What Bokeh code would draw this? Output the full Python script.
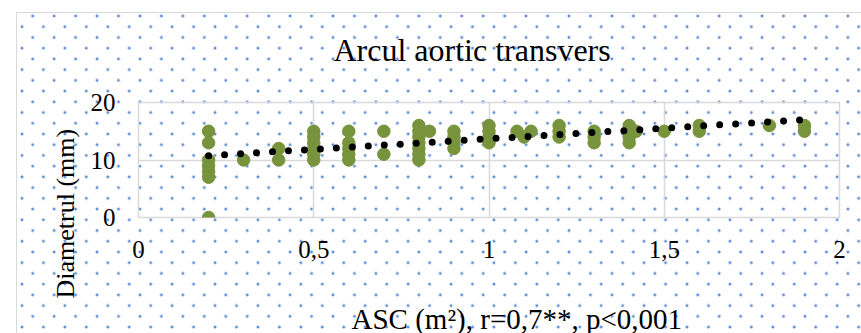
from bokeh.plotting import figure
from bokeh.models import (Range1d, FixedTicker, CustomJSTickFormatter, Title,
                          ColumnDataSource, GlobalInlineStyleSheet)
from bokeh.embed import file_html
from bokeh.resources import INLINE

# ---- data ----
asc = [0.2, 0.2, 0.2, 0.2, 0.2, 0.2, 0.2,
       0.3,
       0.4, 0.4,
       0.5, 0.5, 0.5, 0.5, 0.5, 0.5,
       0.6, 0.6, 0.6, 0.6, 0.6,
       0.7, 0.7,
       0.8, 0.8, 0.8, 0.8, 0.8, 0.8, 0.8, 0.83,
       0.9, 0.9, 0.9, 0.9,
       1.0, 1.0, 1.0, 1.0,
       1.08, 1.12, 1.1,
       1.2, 1.2, 1.2,
       1.3, 1.3, 1.3,
       1.4, 1.4, 1.4, 1.4, 1.42,
       1.5,
       1.6, 1.6,
       1.8,
       1.9, 1.9]
diametru = [15, 13, 10, 9, 8, 7, 0,
            10,
            12, 10,
            15, 14, 13, 12, 11, 10,
            15, 13, 12, 11, 10,
            15, 11,
            16, 15, 14, 13, 12, 11, 10, 15,
            15, 14, 13, 12,
            16, 15, 14, 13,
            15, 15, 14,
            16, 15, 14,
            15, 14, 13,
            16, 15, 14, 13, 15,
            15,
            16, 15,
            16,
            16, 15]
trend_x = [0.2, 1.9]
trend_y = [10.75, 17.0]
x_ticks = [0, 0.5, 1, 1.5, 2]
y_ticks = [0, 10, 20]

title_text = "Arcul aortic transvers"
x_label = "ASC (m\u00b2), r=0,7**, p<0,001"
y_label = "Diametrul (mm)"

FONT = "Liberation Serif"
GRID = "#d9d9d9"
GREEN = "#77933c"

p = figure(width=861, height=409, output_backend="svg", toolbar_location=None,
           x_range=Range1d(0, 2), y_range=Range1d(0, 20),
           min_border_left=138, min_border_right=22, min_border_top=114, min_border_bottom=180,
           background_fill_color=None, border_fill_color=None)

dot = ("radial-gradient(circle at 50% 50%, rgba(60,110,200,1) 0px, rgba(80,130,210,0.85) 0.9px, "
       "rgba(120,160,225,0.35) 1.6px, rgba(255,255,255,0) 2.1px)")
p.styles = {
    "margin-top": "-12px",
    "background-color": "white",
    "background-image": ", ".join([
        f"linear-gradient({GRID}, {GRID})",
        f"linear-gradient({GRID}, {GRID})",
        "linear-gradient(#ffffff, #ffffff)",
        "linear-gradient(#ffffff, #ffffff)",
        dot, dot]),
    "background-position": "16px 24px, 16px 24px, 0px 0px, 0px 0px, 0.51px -4.19px, -10.22px 6.54px",
    "background-size": "1px 100%, 100% 1px, 16px 100%, 100% 24px, 21.46px 21.46px, 21.46px 21.46px",
    "background-repeat": "no-repeat, no-repeat, no-repeat, no-repeat, repeat, repeat",
}
p.stylesheets = [GlobalInlineStyleSheet(css="html, body { overflow: hidden !important; }")]

p.outline_line_color = GRID
p.outline_line_width = 1.5

for ax, ticks in ((p.xaxis[0], x_ticks), (p.yaxis[0], y_ticks)):
    ax.ticker = FixedTicker(ticks=ticks)
    ax.axis_line_color = None
    ax.major_tick_line_color = None
    ax.minor_tick_line_color = None
    ax.major_tick_out = 0
    ax.major_tick_in = 0
    ax.major_label_text_font = FONT
    ax.major_label_text_font_size = "25px"
    ax.major_label_text_color = "black"
p.xaxis[0].formatter = CustomJSTickFormatter(code="return tick.toString().replace('.', ',');")
p.xaxis[0].major_label_standoff = 23
p.yaxis[0].major_label_standoff = 23

p.xgrid[0].ticker = FixedTicker(ticks=x_ticks)
p.ygrid[0].ticker = FixedTicker(ticks=y_ticks)
for g in (p.xgrid[0], p.ygrid[0]):
    g.grid_line_color = GRID
    g.grid_line_width = 1.5

src = ColumnDataSource(data=dict(asc=asc, diametru=diametru))
p.scatter("asc", "diametru", source=src, size=12.5, color=GREEN, line_color=GREEN)

p.line(trend_x, trend_y, line_color="black", line_width=7, line_dash="0 16", line_cap="round")

p.add_layout(Title(text=title_text, align="left", offset=195, vertical_align="bottom", standoff=70,
                   text_font=FONT, text_font_size="32px", text_font_style="normal",
                   text_color="black"), "above")
p.add_layout(Title(text=x_label, align="left", offset=213, vertical_align="top", standoff=84,
                   text_font=FONT, text_font_size="29px", text_font_style="normal",
                   text_color="black"), "below")
p.add_layout(Title(text=y_label, align="left", offset=-81, vertical_align="bottom", standoff=16,
                   text_font=FONT, text_font_size="26px", text_font_style="normal",
                   text_color="black"), "left")

open("out.html", "w").write(file_html(p, INLINE))
